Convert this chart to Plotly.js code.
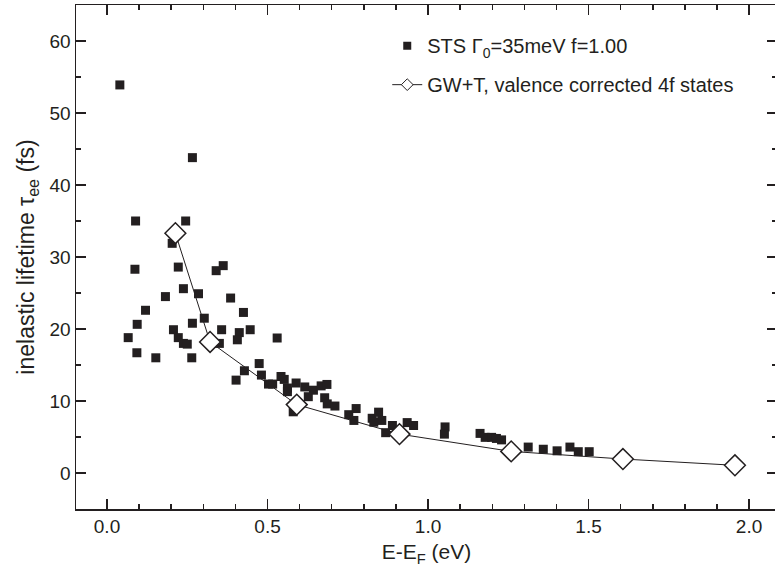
<!DOCTYPE html>
<html>
<head>
<meta charset="utf-8">
<script src="https://cdn.plot.ly/plotly-3.0.1.min.js"></script>
<style>
html,body{margin:0;padding:0;overflow:hidden;background:#fff;}
#chart{width:778px;height:577px;}
</style>
</head>
<body>
<div id="chart"></div>
<script>
// STS data: energy (eV) and inelastic lifetime (fs)
var stsE = [0.04,0.266,0.089,0.245,0.203,0.087,0.222,0.34,0.362,0.238,0.285,0.182,0.385,0.12,0.425,0.303,0.094,0.266,0.207,0.357,0.446,0.412,0.406,0.066,0.222,0.238,0.25,0.35,0.53,0.093,0.152,0.264,0.474,0.428,0.481,0.402,0.503,0.516,0.542,0.552,0.562,0.562,0.589,0.616,0.627,0.643,0.667,0.685,0.678,0.686,0.71,0.58,0.753,0.776,0.769,0.826,0.846,0.856,0.831,0.868,0.889,0.935,0.955,1.053,1.051,1.162,1.178,1.198,1.213,1.229,1.312,1.359,1.402,1.442,1.468,1.502];
var stsTau = [53.9,43.8,35.0,35.0,31.9,28.3,28.6,28.1,28.8,25.6,24.9,24.5,24.3,22.6,22.3,21.5,20.65,20.8,19.9,19.9,19.9,19.5,18.5,18.8,18.8,18.0,17.9,18.0,18.75,16.7,16.0,16.0,15.2,14.2,13.6,12.9,12.35,12.35,13.4,13.0,11.8,11.3,12.5,11.95,10.6,11.5,12.1,12.3,10.45,9.6,9.3,8.5,8.1,8.95,7.3,7.6,8.45,7.3,7.05,5.6,6.6,7.0,6.6,6.4,5.4,5.5,4.95,4.95,4.8,4.6,3.6,3.3,3.08,3.6,2.96,2.96];
// GW+T calculation
var gwE = [0.213,0.321,0.591,0.911,1.259,1.607,1.956];
var gwTau = [33.3,18.2,9.5,5.4,3.0,1.94,1.07];
// labels
var stsName = "STS \u0393<sub>0</sub>=35meV f=1.00";
var gwName = "GW+T, valence corrected 4f states";
var xTitle = "E-E<sub>F</sub> (eV)";
var yTitle = "inelastic lifetime \u03c4<sub>ee</sub> (fs)";

var ink = "#231f20";
var traces = [
  {x: stsE, y: stsTau, type: "scatter", mode: "markers", showlegend: false,
   marker: {symbol: "square", size: 9, color: ink}},
  {x: gwE, y: gwTau, type: "scatter", mode: "lines+markers", showlegend: false,
   line: {color: ink, width: 1},
   marker: {symbol: "diamond", size: 16, color: "#ffffff", line: {color: ink, width: 1.5}}},
  {x: [null], y: [null], type: "scatter", mode: "markers", name: stsName, legendgroup: "a",
   marker: {symbol: "square", size: 8, color: ink}},
  {x: [null], y: [null], type: "scatter", mode: "lines+markers", name: gwName, legendgroup: "b",
   line: {color: ink, width: 1},
   marker: {symbol: "diamond", size: 9, color: "#ffffff", line: {color: ink, width: 1}}}
];

var axisCommon = {
  showline: true, linecolor: ink, linewidth: 1.5, mirror: "allticks",
  ticks: "inside", ticklen: 10, tickwidth: 1.5, tickcolor: ink,
  showgrid: false, zeroline: false,
  tickfont: {family: "Liberation Sans, Arial, sans-serif", size: 19, color: ink}
};

var layout = {
  width: 778, height: 577,
  margin: {l: 76, r: 1, t: 5, b: 68},
  paper_bgcolor: "#fff", plot_bgcolor: "#fff",
  font: {family: "Liberation Sans, Arial, sans-serif", color: ink},
  xaxis: Object.assign({}, axisCommon, {
    range: [-0.0966, 2.087], tickvals: [0, 0.5, 1.0, 1.5, 2.0],
    ticktext: ["0.0", "0.5", "1.0", "1.5", "2.0"],
    minor: {dtick: 0.1, tick0: 0, ticks: "inside", ticklen: 5, tickwidth: 1.5, tickcolor: ink, showgrid: false},
    title: {text: xTitle, font: {size: 21, color: ink}, standoff: 8}
  }),
  yaxis: Object.assign({}, axisCommon, {
    range: [-5, 65], tickvals: [0, 10, 20, 30, 40, 50, 60],
    minor: {dtick: 5, tick0: 0, ticks: "inside", ticklen: 5, tickwidth: 1.5, tickcolor: ink, showgrid: false},
    title: {text: yTitle, font: {size: 23, color: ink}, standoff: 8}
  }),
  legend: {x: 0.444, y: 0.958, xanchor: "left", yanchor: "top",
    bgcolor: "rgba(0,0,0,0)", font: {size: 20, color: ink},
    traceorder: "grouped", tracegroupgap: 10}
};

Plotly.newPlot("chart", traces, layout, {displayModeBar: false, staticPlot: true});
</script>
</body>
</html>
